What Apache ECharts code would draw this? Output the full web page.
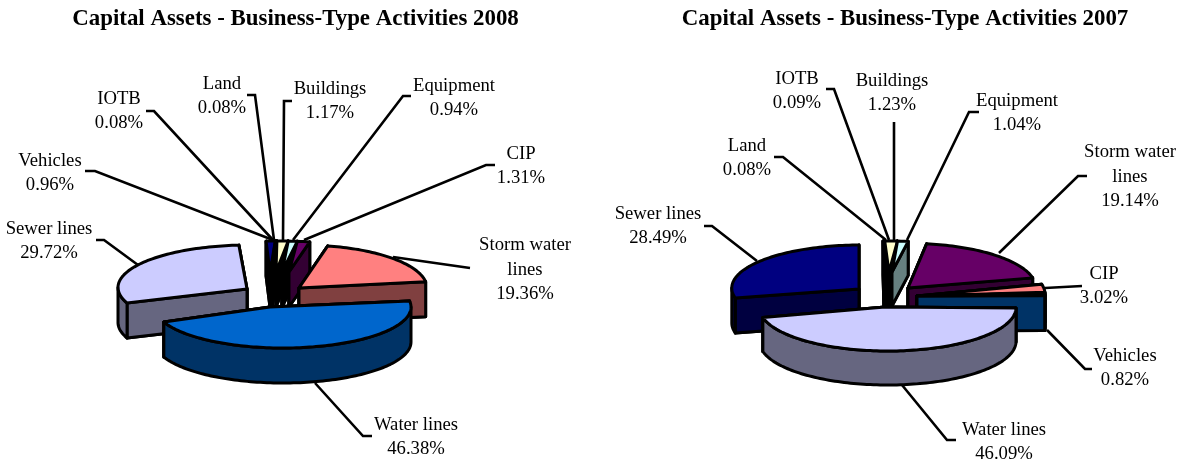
<!DOCTYPE html>
<html><head><meta charset="utf-8">
<style>html,body{margin:0;padding:0;background:#fff}#c{width:1183px;height:462px}</style>
<script src="https://cdn.jsdelivr.net/npm/echarts@6/dist/echarts.min.js"></script>
</head><body><div id="c"></div>
<script>
// ---- data ----
const titles = ['Capital Assets - Business-Type Activities 2008', 'Capital Assets - Business-Type Activities 2007'];
const names2008 = ['Water lines','Sewer lines','Vehicles','IOTB','Land','Buildings','Equipment','CIP','Storm water lines'];
const values2008 = [46.38,29.72,0.96,0.08,0.08,1.17,0.94,1.31,19.36];
const names2007 = ['Water lines','Sewer lines','Land','IOTB','Buildings','Equipment','Storm water lines','CIP','Vehicles'];
const values2007 = [46.09,28.49,0.08,0.09,1.23,1.04,19.14,3.02,0.82];

// ---- styling and layout ----
const colors2008 = {'Water lines':'#0066CC','Sewer lines':'#CCCCFF','Vehicles':'#000080','IOTB':'#9999FF','Land':'#993366','Buildings':'#FFFFCC','Equipment':'#CCFFFF','CIP':'#660066','Storm water lines':'#FF8080'};
const colors2007 = {'Water lines':'#CCCCFF','Sewer lines':'#000080','Vehicles':'#0066CC','IOTB':'#993366','Land':'#9999FF','Buildings':'#FFFFCC','Equipment':'#CCFFFF','CIP':'#FF8080','Storm water lines':'#660066'};
const smallL = {cx:278,cy:284,a:154,b:43,d:35};
const layout2008 = {
  start:-8.4,
  small:['Vehicles','IOTB','Land','Buildings','Equipment','CIP'],
  big:['Storm water lines','Sewer lines','Water lines'],
  geo:{
    'Water lines':{cx:283,cy:307,a:128,b:41,d:35,ax:270,ay:307},
    'Sewer lines':{cx:249,cy:287.5,a:131,b:42.5,d:35,ax:247,ay:289},
    'Storm water lines':{cx:302,cy:288,a:125,b:43,d:35,ax:299,ay:288},
    'Vehicles':{...smallL,ax:270,ay:272,black:1},
    'IOTB':{...smallL,ax:271,ay:272,black:1},
    'Land':{...smallL,ax:272,ay:272,black:1},
    'Buildings':{...smallL,ax:276,ay:272,black:1},
    'Equipment':{...smallL,ax:282,ay:272,black:1},
    'CIP':{...smallL,ax:289,ay:272}
  },
  labels:{
    'Water lines':{x:416,y:437,line:[[315,383],[363,436],[372,436]]},
    'Sewer lines':{x:49,y:241,line:[[96,240],[104,240],[138,265]]},
    'Vehicles':{x:50,y:173,line:[[85,171],[95,171],[273,240]]},
    'IOTB':{x:119,y:111,line:[[146,111],[154,111],[273,240]]},
    'Land':{x:222,y:96,line:[[247,95],[255,95],[274,240]]},
    'Buildings':{x:330,y:101,line:[[292,101],[284,101],[283,240]]},
    'Equipment':{x:454,y:98,line:[[411,96],[403,96],[293,240]]},
    'CIP':{x:521,y:166,line:[[495,165],[486,165],[304,240]]},
    'Storm water lines':{x:525,y:270,line:[[393,257],[470,268]]}
  }
};
const smallR = {cx:885.3,cy:284,a:165,b:43,d:34};
const layout2007 = {
  start:0.7,
  small:['Land','IOTB','Buildings','Equipment'],
  big:['Storm water lines','CIP','Vehicles','Sewer lines','Water lines'],
  geo:{
    'Water lines':{cx:887.7,cy:307.5,a:128.3,b:43.5,d:34,ax:885,ay:307},
    'Sewer lines':{cx:860.8,cy:288,a:129,b:43,d:35,ax:859,ay:289},
    'Storm water lines':{cx:909,cy:288,a:127,b:44.6,d:34,ax:908,ay:288},
    'CIP':{cx:920,cy:294,a:125,b:43,d:30,ax:917,ay:296},
    'Vehicles':{cx:917,cy:295,a:128,b:43,d:35,ax:917,ay:296},
    'Land':{...smallR,ax:884,ay:272,black:1},
    'IOTB':{...smallR,ax:886,ay:272,black:1},
    'Buildings':{...smallR,ax:889,ay:272,black:1},
    'Equipment':{...smallR,ax:892,ay:272,tipD:12}
  },
  labels:{
    'Water lines':{x:1004,y:442,line:[[902,385],[947,440],[956,440]]},
    'Sewer lines':{x:658,y:226,line:[[704,226],[712,226],[757,261]]},
    'Land':{x:747,y:158,line:[[774,157],[783,157],[886,240]]},
    'IOTB':{x:797,y:91,line:[[826,89],[834,89],[889,240]]},
    'Buildings':{x:892,y:93,line:[[894,122],[894,240]]},
    'Equipment':{x:1017,y:113,line:[[979,112],[969,112],[907,240]]},
    'Storm water lines':{x:1130,y:177,line:[[1087,176],[1078,176],[999,253]]},
    'CIP':{x:1104,y:286,line:[[1045,288],[1082,286]]},
    'Vehicles':{x:1125,y:368,line:[[1047,330],[1085,369],[1092,369]]}
  }
};
const FONT = '"Liberation Serif","Times New Roman",serif';
const shade = c => '#' + [1,3,5].map(i => Math.round(parseInt(c.substr(i,2),16)/2).toString(16).padStart(2,'0')).join('');
const labelText = (n,v) => n.replace('Storm water lines','Storm water\nlines') + '\n' + v.toFixed(2) + '%';

function sliceAngles(values, start){
  const total = values.reduce((s,v)=>s+v,0);
  let acc = 0;
  return values.map(v => { const t1 = start + acc/total*360; acc += v; return [t1, start + acc/total*360]; });
}
const arcPts = (g,t1,t2,dy) => {
  const pts = [], n = Math.max(1,Math.ceil(Math.abs(t2-t1)/1.5));
  for(let i=0;i<=n;i++){ const t=(t1+(t2-t1)*i/n)*Math.PI/180; pts.push([g.cx+g.a*Math.cos(t), g.cy+g.b*Math.sin(t)+dy]); }
  return pts;
};
const poly = (points,fill,lw=3) => ({type:'polygon',silent:true,shape:{points},style:{fill,stroke:'#000',lineWidth:lw,lineJoin:'round'}});

// pass 0 = side walls only, 1 = top face only, 2 = both
function sliceSeries(names, values, colors, L){
  const ang = sliceAngles(values, L.start);
  const rows = [];
  L.small.forEach(n => rows.push([names.indexOf(n), values[names.indexOf(n)], 0]));
  L.small.forEach(n => rows.push([names.indexOf(n), values[names.indexOf(n)], 1]));
  L.big.forEach(n => rows.push([names.indexOf(n), values[names.indexOf(n)], 2]));
  return {
    type:'custom', coordinateSystem:'none', silent:true, animation:false, clip:false,
    data: rows,
    renderItem(params, api){
      const i = api.value(0), pass = api.value(2), n = names[i], g = L.geo[n], [t1,t2] = ang[i];
      const top = colors[n], side = g.black ? '#000' : shade(top), d = g.d, td = g.tipD||d;
      const A = [g.ax,g.ay], tips = arcPts(g,t1,t1,0).concat(arcPts(g,t2,t2,0));
      const kids = [];
      if(pass !== 1){
        tips.slice().sort((p,q)=>p[1]-q[1]).forEach(T => {
          kids.push(poly([A,T,[T[0],T[1]+(T===tips[1]?td:d)],[A[0],A[1]+d]],side));
        });
        [[0,180],[360,540]].forEach(([lo,hi]) => {
          const s=Math.max(t1,lo), e=Math.min(t2,hi);
          if(e>s){ kids.push(poly(arcPts(g,s,e,0).concat(arcPts(g,e,s,d)),side)); }
        });
      }
      if(pass !== 0){ kids.push(poly([A].concat(arcPts(g,t1,t2,0)),top)); }
      return {type:'group',children:kids};
    }
  };
}
function labelSeries(names, values, L){
  return {
    type:'custom', coordinateSystem:'none', silent:true, animation:false, clip:false, z:5,
    data: names.map((n,i)=>[i,values[i]]),
    renderItem(params, api){
      const i = api.value(0), n = names[i], l = L.labels[n];
      return {type:'group',children:[
        {type:'polyline',silent:true,shape:{points:l.line},style:{fill:null,stroke:'#000',lineWidth:2.6}},
        {type:'text',silent:true,x:l.x,y:l.y,style:{text:labelText(n,api.value(1)),font:'18.7px '+FONT,fill:'#000',align:'center',verticalAlign:'middle',lineHeight:24.5}}
      ]};
    }
  };
}
const chart = echarts.init(document.getElementById('c'),null,{renderer:'canvas'});
chart.setOption({
  backgroundColor:'#fff', animation:false,
  title:[
    {text:titles[0],left:290.5,top:3,textAlign:'center',textStyle:{fontFamily:FONT,fontSize:22.9,fontWeight:'bold',color:'#000'}},
    {text:titles[1],left:900,top:3,textAlign:'center',textStyle:{fontFamily:FONT,fontSize:22.9,fontWeight:'bold',color:'#000'}}
  ],
  series:[
    sliceSeries(names2008,values2008,colors2008,layout2008),
    sliceSeries(names2007,values2007,colors2007,layout2007),
    labelSeries(names2008,values2008,layout2008),
    labelSeries(names2007,values2007,layout2007)
  ]
});
</script></body></html>
